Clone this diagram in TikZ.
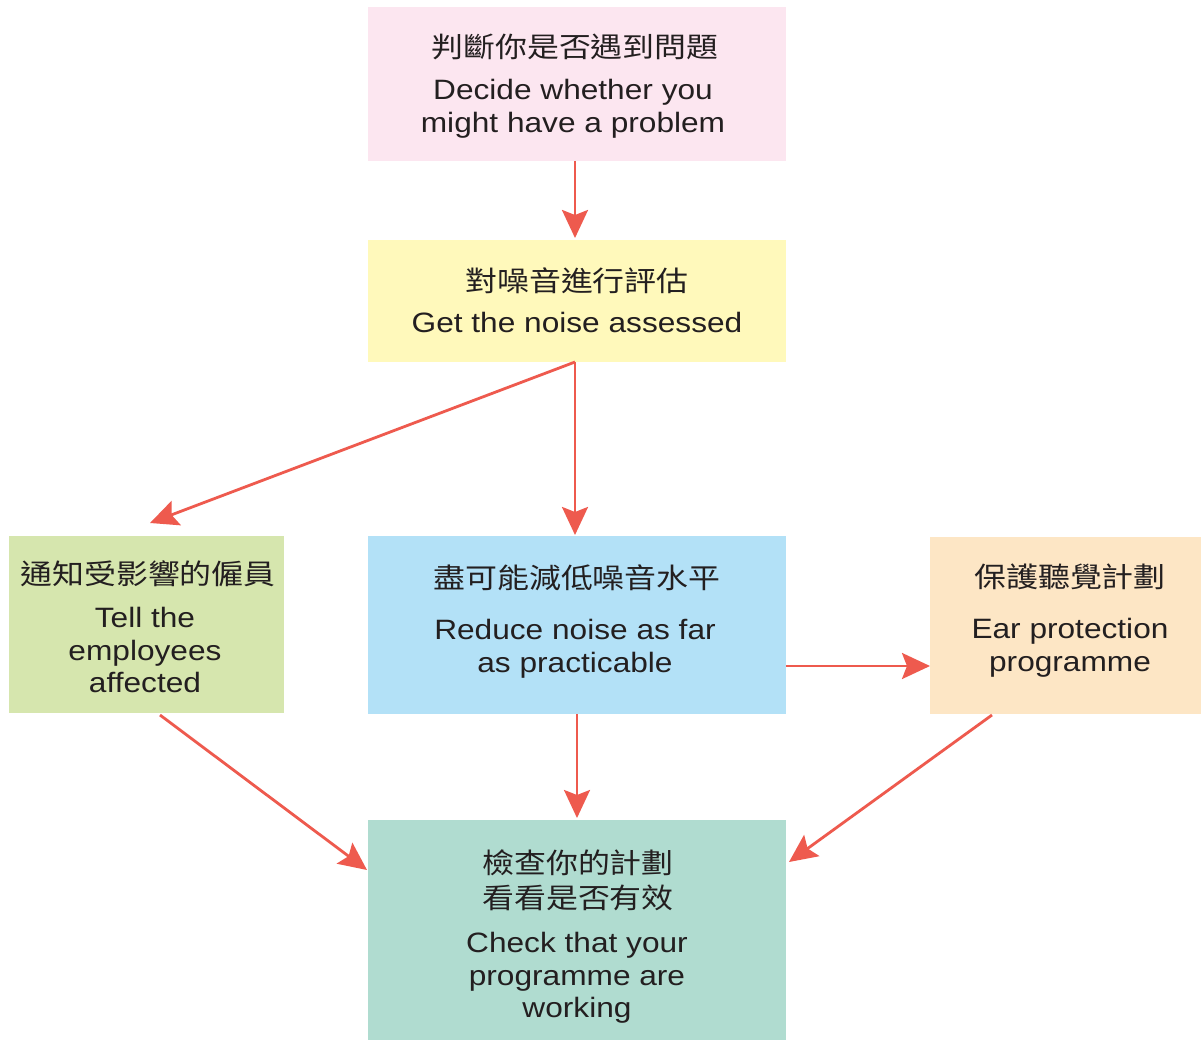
\documentclass[tikz,border=0pt]{standalone}
\usepackage{fontspec}
\setmainfont{Liberation Sans}[FakeStretch=1.13]
\newfontfamily\cjk{Noto Sans CJK TC}[FakeStretch=1.14]
\usetikzlibrary{arrows.meta}
\definecolor{pinkbox}{HTML}{FCE6F0}
\definecolor{yellowbox}{HTML}{FFF9BB}
\definecolor{greenbox}{HTML}{D6E6AE}
\definecolor{bluebox}{HTML}{B3E1F7}
\definecolor{peachbox}{HTML}{FDE6C5}
\definecolor{tealbox}{HTML}{B0DCD0}
\definecolor{arrowred}{HTML}{EE5A4E}
\definecolor{textdark}{HTML}{231F20}
\tikzset{
  box/.style={draw=none, inner sep=0pt, outer sep=0pt},
  entxt/.style={align=center, inner sep=0pt, text=textdark, font=\fontsize{28}{32.5}\selectfont},
  zhtxt/.style={align=center, inner sep=0pt, text=textdark, font=\cjk\fontsize{28}{35}\selectfont},
  flow/.style={draw=arrowred, line width=2.8pt, -{Stealth[length=28pt, width=26pt, inset=5pt]}}
}
\begin{document}
\begin{tikzpicture}[x=1pt,y=-1pt]
\useasboundingbox (0,0) rectangle (1201,1040);
\fill[white] (0,0) rectangle (1201,1040);
% boxes
\node[box, fill=pinkbox, minimum width=418pt, minimum height=154pt] (p) at (577,84) {};
\node[box, fill=yellowbox, minimum width=418pt, minimum height=122pt] (y) at (577,301) {};
\node[box, fill=greenbox, minimum width=275pt, minimum height=177pt] (g) at (146.5,624.5) {};
\node[box, fill=bluebox, minimum width=418pt, minimum height=178pt] (b) at (577,625) {};
\node[box, fill=peachbox, minimum width=271pt, minimum height=177pt] (o) at (1065.5,625.5) {};
\node[box, fill=tealbox, minimum width=418pt, minimum height=220pt] (t) at (577,930) {};
% texts
\node[zhtxt] (pz) at (575,47) {判斷你是否遇到問題};
\node[entxt] (pe) at (573,109) {Decide whether you\\might have a problem};
\node[zhtxt] (yz) at (577,281) {對噪音進行評估};
\node[entxt] (ye) at (577,322) {Get the noise assessed};
\node[zhtxt] (gz) at (148,574) {通知受影響的僱員};
\node[entxt] (ge) at (145,650) {Tell the\\employees\\affected};
\node[zhtxt] (bz) at (577,578) {盡可能減低噪音水平};
\node[entxt] (be) at (575,649) {Reduce noise as far\\as practicable};
\node[zhtxt] (oz) at (1070,577) {保護聽覺計劃};
\node[entxt] (oe) at (1070,648) {Ear protection\\programme};
\node[zhtxt] (tz) at (578,880) {檢查你的計劃\\看看是否有效};
\node[entxt] (te) at (577,978) {Check that your\\programme are\\working};
% connectors
\coordinate (ysplit) at (575,362);
\coordinate (gtip) at (150,523);
\coordinate (gfoot) at (160,715);
\coordinate (ofoot) at (992,715);
\draw[flow] (575,161) -- (575,238);
\draw[flow] (ysplit) -- (575,535);
\draw[flow] (ysplit) -- (gtip);
\draw[flow] (577,714) -- (577,818);
\draw[flow] (786,666) -- (930,666);
\draw[flow] (gfoot) -- (367,870);
\draw[flow] (ofoot) -- (789,862);
\end{tikzpicture}
\end{document}
